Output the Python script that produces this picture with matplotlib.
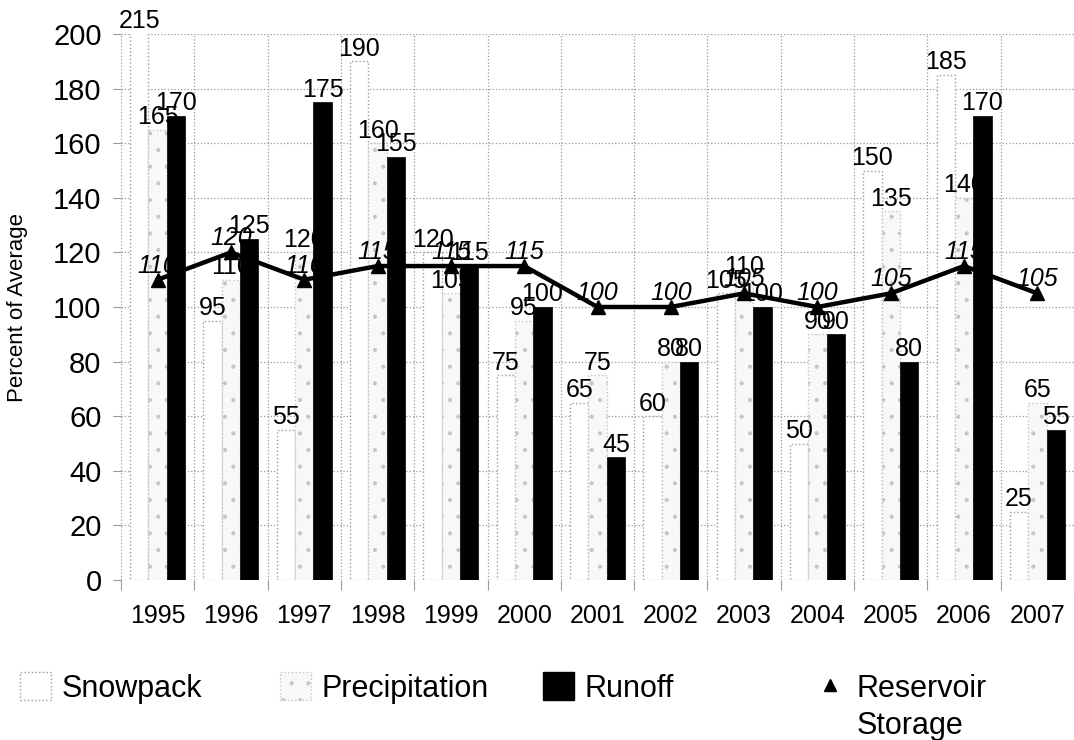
import numpy as np
import matplotlib.pyplot as plt
from matplotlib.patches import Patch
from matplotlib.lines import Line2D

plt.rcParams['font.family'] = ['Liberation Sans', 'DejaVu Sans']
plt.rcParams['hatch.linewidth'] = 0.5

years = ['1995', '1996', '1997', '1998', '1999', '2000', '2001',
         '2002', '2003', '2004', '2005', '2006', '2007']
snowpack = [215, 95, 55, 190, 120, 75, 65, 60, 105, 50, 150, 185, 25]
precipitation = [165, 110, 120, 160, 105, 95, 75, 80, 110, 90, 135, 140, 65]
runoff = [170, 125, 175, 155, 115, 100, 45, 80, 100, 90, 80, 170, 55]
reservoir = [110, 120, 110, 115, 115, 115, 100, 100, 105, 100, 105, 115, 105]

W, H = 1074, 740
fig = plt.figure(figsize=(W / 100, H / 100), dpi=100)
ax = fig.add_axes([121 / W, 1 - 580 / H, (W - 121) / W, (580 - 34) / H])

x = np.arange(len(years))
bw = 0.25
ymax = 200

# bars
ax.bar(x - bw, snowpack, bw, facecolor='white', edgecolor='#9a9a9a',
       linestyle=':', linewidth=1.0, zorder=2)
ax.bar(x, precipitation, bw, facecolor='#f8f8f8', edgecolor='#c4c4c4',
       hatch='.', linestyle=':', linewidth=1.0, zorder=2)
ax.bar(x + bw, runoff, bw, facecolor='black', edgecolor='black',
       linewidth=0.5, zorder=4)

# labels for snowpack / precipitation / storage sit under the runoff bars
for xs, vals in ((x - bw, snowpack), (x, precipitation)):
    for xi, v in zip(xs, vals):
        ax.annotate(str(v), (xi, min(v, ymax)), xytext=(0, 4), textcoords='offset points',
                    ha='center', va='baseline', fontsize=18, zorder=3,
                    annotation_clip=False)

for xi, v in zip(x, reservoir):
    ax.annotate(str(v), (xi, v), xytext=(0, 5), textcoords='offset points',
                ha='center', va='baseline', fontsize=18, style='italic', zorder=3)

for xi, v in zip(x + bw, runoff):
    ax.annotate(str(v), (xi, v), xytext=(0, 4), textcoords='offset points',
                ha='center', va='baseline', fontsize=18, zorder=5)

ax.plot(x, reservoir, color='black', linewidth=3.2, marker='^', markersize=10,
        zorder=6)

# axes styling
ax.set_xlim(-0.5, len(years) - 0.5)
ax.set_ylim(0, ymax)
ax.set_yticks(np.arange(0, 201, 20))
ax.set_xticks(x)
ax.set_xticklabels(years)
ax.set_xticks(np.arange(-0.5, len(years), 1), minor=True)
ax.tick_params(axis='x', which='major', length=0, pad=17, labelsize=18)
ax.tick_params(axis='x', which='minor', length=7, width=0.8, color='#999999')
ax.tick_params(axis='y', length=6, width=0.8, color='#999999', pad=8, labelsize=21)
for s in ax.spines.values():
    s.set_visible(False)
ax.grid(axis='y', which='major', linestyle=':', color='#999999', linewidth=0.9, zorder=0)
ax.grid(axis='x', which='minor', linestyle=':', color='#999999', linewidth=0.9, zorder=0)
ax.set_axisbelow(True)

ax.set_ylabel('Percent of Average', fontsize=16)
ax.yaxis.set_label_coords((28 - 121) / (W - 121), 0.5)

# legend, one entry per box to keep the original spacing
entries = [
    (Patch(facecolor='white', edgecolor='#9a9a9a', linestyle=':'), 'Snowpack', 20),
    (Patch(facecolor='#f8f8f8', edgecolor='#c4c4c4', hatch='.', linestyle=':'),
     'Precipitation', 280),
    (Patch(facecolor='black', edgecolor='black'), 'Runoff', 543),
    (Line2D([], [], color='black', marker='^', linestyle='None', markersize=9),
     'Reservoir', 815),
]
for handle, label, xp in entries:
    fig.legend([handle], [label], loc='center left',
               bbox_to_anchor=(xp / W, 1 - 688 / H), frameon=False,
               fontsize=22, borderpad=0, borderaxespad=0,
               handlelength=1.0, handleheight=1.0, handletextpad=0.36)
fig.text(857 / W, 1 - 726 / H, 'Storage', fontsize=22, va='center', ha='left')

fig.savefig('out.png', dpi=100)
